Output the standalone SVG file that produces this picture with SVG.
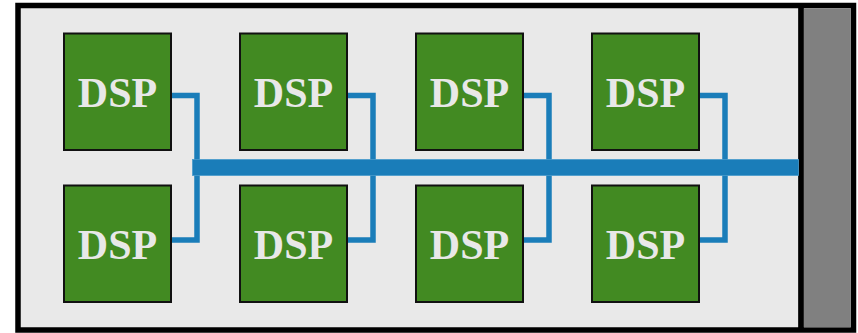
<svg xmlns="http://www.w3.org/2000/svg" width="858" height="333" viewBox="0 0 858 333">
<style>
.dsp rect{fill:#428a22;stroke:#111;stroke-width:2}
.dsp text{font-family:"Liberation Serif","Times New Roman",serif;font-weight:bold;font-size:42px;fill:#e8e8e8;text-anchor:middle}
.link{fill:none;stroke:#1a7db9;stroke-width:5.5;stroke-linejoin:miter}
</style>
<rect x="0" y="0" width="858" height="333" fill="#ffffff"/>
<rect x="18" y="5.5" width="835.5" height="324.5" fill="#e9e9e9" stroke="#000" stroke-width="5.5"/>
<rect x="804" y="8.3" width="46.8" height="319" fill="#808080"/>
<line x1="801" y1="8" x2="801" y2="328" stroke="#000" stroke-width="5.7"/>
<g id="connectors">
<path class="link" d="M171 95.5H197V240H171"/>
<path class="link" d="M347 95.5H373V240H347"/>
<path class="link" d="M523 95.5H549V240H523"/>
<path class="link" d="M699 95.5H725V240H699"/>
<rect id="bus" x="192.5" y="159.5" width="606" height="16" fill="#1a7db9" stroke="#4a9ccc" stroke-width="0.8"/>
</g>
<g id="dsp1" class="dsp"><rect x="64" y="33.5" width="107" height="116.5"/><text x="117.5" y="107">DSP</text></g>
<g id="dsp2" class="dsp"><rect x="240" y="33.5" width="107" height="116.5"/><text x="293.5" y="107">DSP</text></g>
<g id="dsp3" class="dsp"><rect x="416" y="33.5" width="107" height="116.5"/><text x="469.5" y="107">DSP</text></g>
<g id="dsp4" class="dsp"><rect x="592" y="33.5" width="107" height="116.5"/><text x="645.5" y="107">DSP</text></g>
<g id="dsp5" class="dsp"><rect x="64" y="185.5" width="107" height="116.5"/><text x="117.5" y="259">DSP</text></g>
<g id="dsp6" class="dsp"><rect x="240" y="185.5" width="107" height="116.5"/><text x="293.5" y="259">DSP</text></g>
<g id="dsp7" class="dsp"><rect x="416" y="185.5" width="107" height="116.5"/><text x="469.5" y="259">DSP</text></g>
<g id="dsp8" class="dsp"><rect x="592" y="185.5" width="107" height="116.5"/><text x="645.5" y="259">DSP</text></g>
</svg>
